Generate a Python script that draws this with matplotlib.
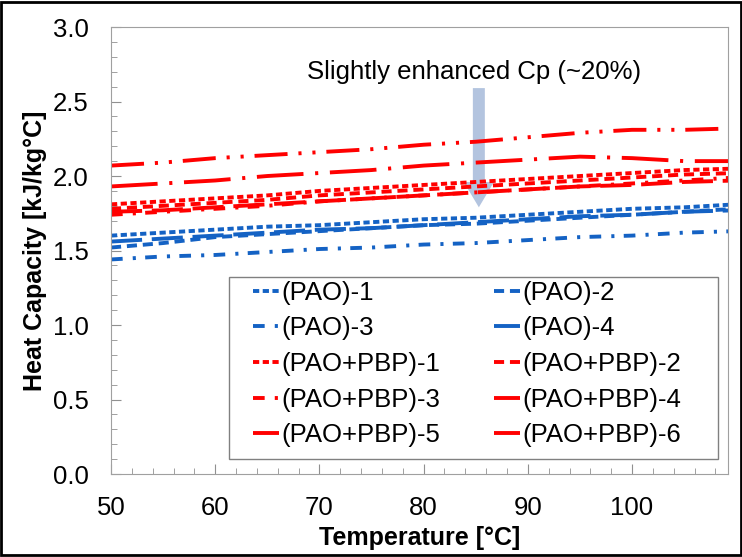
import matplotlib.pyplot as plt
from matplotlib.patches import Rectangle
from matplotlib.ticker import MultipleLocator

plt.rcParams['font.family'] = ['Liberation Sans', 'DejaVu Sans']

# temperature points (°C)
temp = [50, 55, 60, 65, 70, 75, 80, 85, 90, 95, 100, 105, 110]

# heat capacity (kJ/kg°C)
pao_1 = [1.60, 1.62, 1.64, 1.66, 1.67, 1.69, 1.71, 1.72, 1.74, 1.76, 1.78, 1.79, 1.81]
pao_2 = [1.52, 1.55, 1.59, 1.61, 1.63, 1.65, 1.67, 1.68, 1.70, 1.72, 1.74, 1.76, 1.78]
pao_3 = [1.44, 1.46, 1.47, 1.49, 1.51, 1.52, 1.54, 1.55, 1.57, 1.59, 1.60, 1.62, 1.63]
pao_4 = [1.56, 1.58, 1.60, 1.62, 1.64, 1.65, 1.67, 1.69, 1.71, 1.73, 1.74, 1.76, 1.77]
pbp_1 = [1.81, 1.83, 1.85, 1.87, 1.90, 1.92, 1.94, 1.96, 1.98, 2.00, 2.02, 2.04, 2.05]
pbp_2 = [1.78, 1.80, 1.82, 1.84, 1.87, 1.89, 1.91, 1.93, 1.95, 1.97, 1.99, 2.01, 2.02]
pbp_3 = [1.74, 1.76, 1.78, 1.80, 1.83, 1.85, 1.87, 1.89, 1.91, 1.93, 1.95, 1.97, 1.99]
pbp_4 = [1.76, 1.77, 1.79, 1.81, 1.83, 1.85, 1.87, 1.89, 1.91, 1.93, 1.94, 1.96, 1.97]
pbp_5 = [1.93, 1.95, 1.97, 2.00, 2.02, 2.04, 2.07, 2.09, 2.11, 2.13, 2.12, 2.10, 2.10]
pbp_6 = [2.07, 2.09, 2.12, 2.14, 2.16, 2.18, 2.21, 2.23, 2.26, 2.29, 2.31, 2.31, 2.32]

labels = ['(PAO)-1', '(PAO)-2', '(PAO)-3', '(PAO)-4',
          '(PAO+PBP)-1', '(PAO+PBP)-2', '(PAO+PBP)-3',
          '(PAO+PBP)-4', '(PAO+PBP)-5', '(PAO+PBP)-6']
series = [pao_1, pao_2, pao_3, pao_4, pbp_1, pbp_2, pbp_3, pbp_4, pbp_5, pbp_6]

blue = '#1462c4'
red = '#ff0000'
colors = [blue] * 4 + [red] * 6
dash_styles = [(1.6, 0.9), (2.6, 1.5), (3, 2.6, 0.8, 2.4), (8, 2.5),
               (1.6, 0.9), (2.6, 1.5), (3, 2.6, 0.8, 2.4), (8, 2.5),
               (12, 3, 0.8, 3), (8.5, 2.8, 0.8, 2.8, 0.8, 2.8)]

fig = plt.figure(figsize=(7.42, 5.57), dpi=100)
ax = fig.add_axes([0.1496, 0.149, 0.8314, 0.8025])

handles = []
for y, lab, c, d in zip(series, labels, colors, dash_styles):
    ln, = ax.plot(temp, y, color=c, lw=2.8, dashes=d, label=lab)
    handles.append(ln)

# annotation arrow
ax.arrow(85.3, 2.59, 0, -0.80, width=1.15, head_width=2.9, head_length=0.17,
         length_includes_head=True, color='#a6bada', alpha=0.85, lw=0, zorder=1)
ax.text(84.8, 2.70, 'Slightly enhanced Cp (~20%)', fontsize=18.5, ha='center', va='center')

ax.set_xlim(50, 109.2)
ax.set_ylim(0, 3.0)
ax.set_xticks([50, 60, 70, 80, 90, 100])
ax.set_yticks([0, 0.5, 1.0, 1.5, 2.0, 2.5, 3.0])
ax.set_yticklabels(['0.0', '0.5', '1.0', '1.5', '2.0', '2.5', '3.0'])
ax.xaxis.set_minor_locator(MultipleLocator(2))
ax.yaxis.set_minor_locator(MultipleLocator(0.1))
ax.tick_params(which='both', direction='in', color='#909090', labelsize=18.5)
ax.tick_params(which='major', length=7)
ax.tick_params(which='minor', length=4)
ax.tick_params(axis='x', pad=16)
ax.tick_params(axis='y', pad=16)
for s in ax.spines.values():
    s.set_color('#a0a0a0')

ax.set_xlabel('Temperature [°C]', fontsize=18, fontweight='bold', labelpad=4)
ax.set_ylabel('Heat Capacity [kJ/kg°C]', fontsize=18, fontweight='bold', labelpad=4)

# legend filled row by row
order = [0, 2, 4, 6, 8, 1, 3, 5, 7, 9]
leg = ax.legend([handles[i] for i in order], [labels[i] for i in order],
                ncol=2, loc='upper left', bbox_to_anchor=(0.230, 0.432),
                fontsize=18.5, handlelength=1.0, handletextpad=0.1,
                columnspacing=2.1, labelspacing=0.45, frameon=False,
                borderpad=0, borderaxespad=0)
ax.add_patch(Rectangle((0.191, 0.034), 0.793, 0.407, transform=ax.transAxes,
                       fill=True, facecolor='white', edgecolor='#808080', lw=1, zorder=4))
leg.set_zorder(5)

fig.patches.append(Rectangle((0.002, 0.003), 0.996, 0.994, transform=fig.transFigure,
                             fill=False, edgecolor='black', lw=2))

fig.savefig('out.png', dpi=100)
